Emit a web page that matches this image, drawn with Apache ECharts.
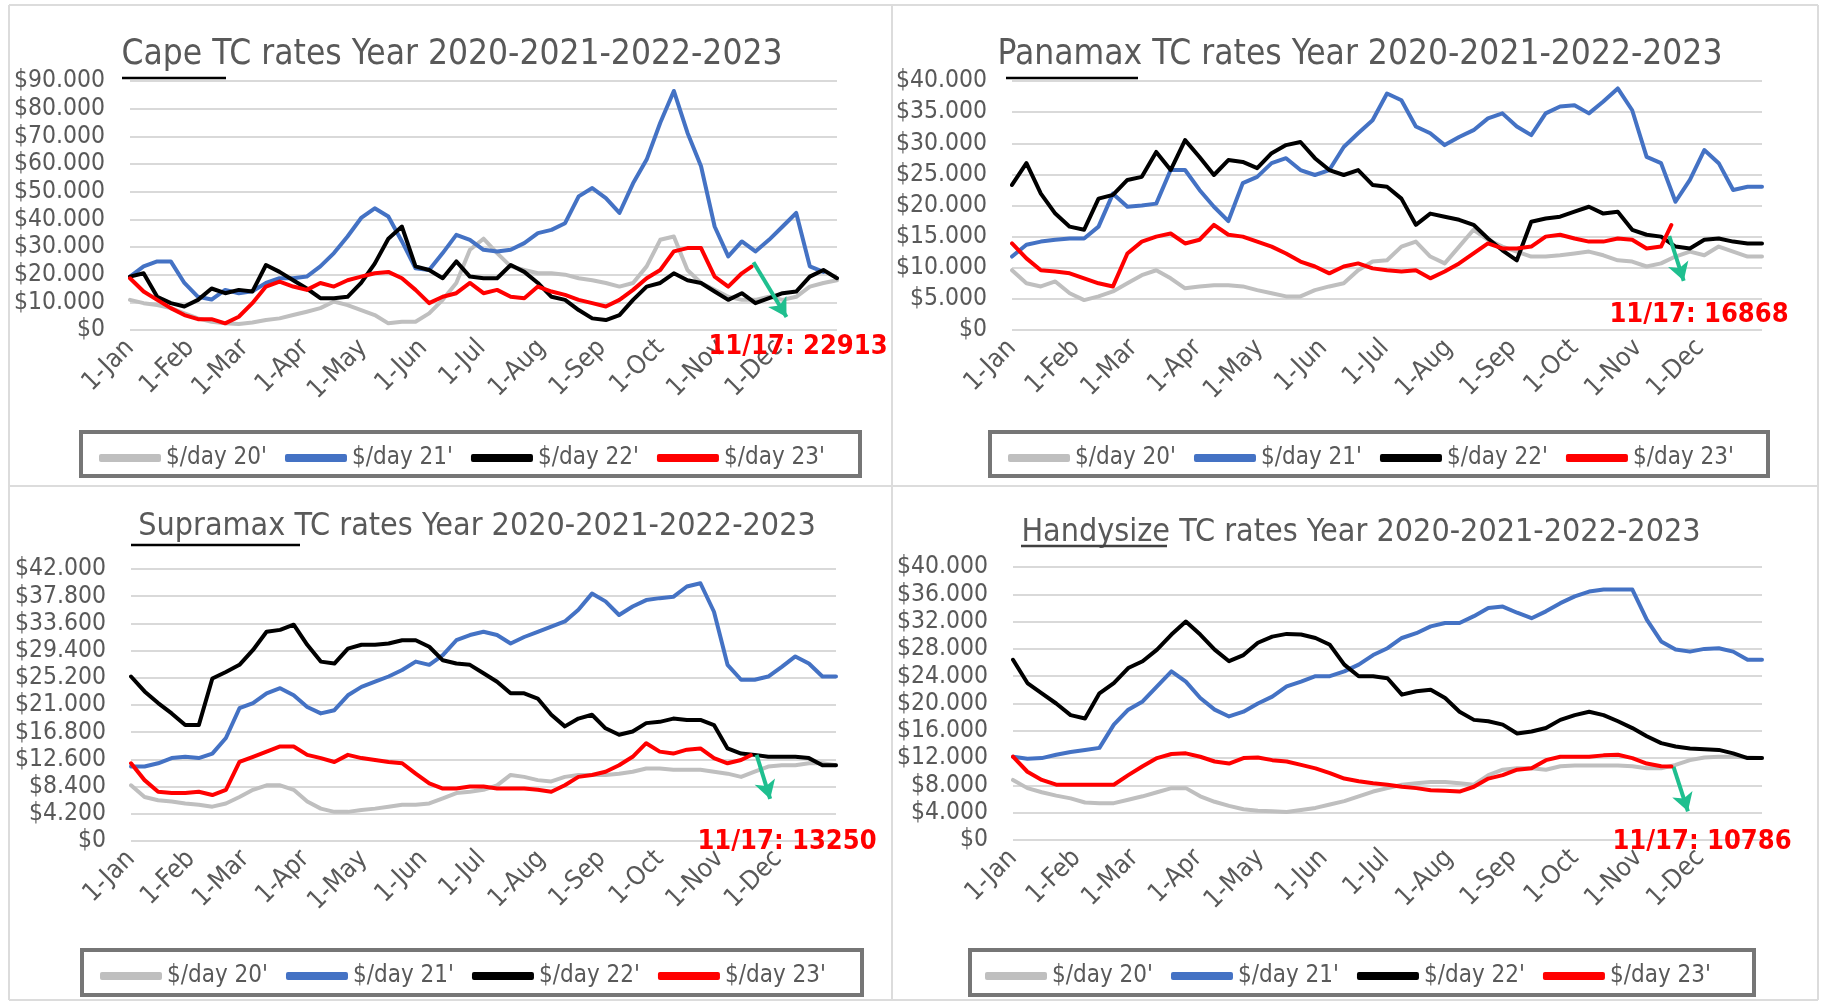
<!DOCTYPE html>
<html>
<head>
<meta charset="utf-8">
<script src="https://cdn.jsdelivr.net/npm/echarts@6/dist/echarts.min.js"></script>
<style>
html,body{margin:0;padding:0;background:#fff;}
#chart{width:1821px;height:1004px;}
</style>
</head>
<body>
<div id="chart"></div>
<script>
(()=>{
"use strict";

// x positions: day of year, weekly samples
const days = [0,7,14,21,28,35,42,49,56,63,70,77,84,91,98,105,112,119,126,133,140,147,154,161,168,175,182,189,196,203,210,217,224,231,238,245,252,259,266,273,280,287,294,301,308,315,322,329,336,343,350,357,364];
const lastDay23 = 320; // 17 Nov
const monthStarts = [0,31,59,90,120,151,181,212,243,273,304,334];
const monthLabels = ['1-Jan','1-Feb','1-Mar','1-Apr','1-May','1-Jun','1-Jul','1-Aug','1-Sep','1-Oct','1-Nov','1-Dec'];
const seriesNames = ["$/day 20'", "$/day 21'", "$/day 22'", "$/day 23'"];
const seriesColors = ['#bfbfbf', '#4472c4', '#000000', '#ff0000'];

// Cape
const cape20 = [10900,9700,9000,7900,6000,4200,3000,2400,2200,2700,3600,4200,5400,6600,7900,10300,9000,7200,5400,2400,3000,3000,6000,10900,17000,29000,33000,27800,23000,21700,20500,20500,20000,18700,18000,17000,15700,17000,23000,32600,33800,21700,17000,14500,12000,10900,10900,12000,10900,12000,15700,17000,18000];
const cape21 = [19300,23000,24800,24800,17000,12000,11000,14500,13300,14000,17000,18700,18700,19300,23000,27800,33800,40500,44000,41000,32000,22300,21700,27800,34400,32600,29000,28400,29000,31400,35000,36200,38600,48300,51300,47700,42300,53000,61600,74900,86400,71300,59200,37400,26600,32000,28400,32600,37400,42300,23000,21000];
const cape22 = [19300,20500,12000,9700,8500,10900,15000,13300,14500,13900,23500,21000,18000,15000,11500,11500,12000,17000,24000,33000,37400,23000,21700,18700,24800,19300,18700,18700,23500,21000,17000,12000,10900,7200,4200,3600,5400,10900,15700,17000,20500,18000,17000,13900,10900,13300,9700,11500,13300,13900,19300,21700,18700];
const cape23 = [18700,13900,10900,7900,5400,3900,3900,2400,4800,9700,15700,17500,15700,14500,17000,15700,18000,19300,20500,21000,18700,14500,9700,12000,13300,17000,13300,14500,12000,11500,15700,13900,12700,10900,9700,8500,10900,14500,18700,21700,28400,29600,29600,19300,15700,20500,22913];

// Panamax
const pmx20 = [9600,7500,7000,7800,5900,4800,5400,6200,7500,8800,9600,8300,6700,7000,7200,7200,7000,6400,5900,5400,5400,6400,7000,7500,9600,11000,11200,13400,14200,11800,10700,13400,16100,14500,13400,12600,11800,11800,12000,12300,12600,12000,11200,11000,10200,10700,11800,12600,12000,13400,12600,11800,11800];
const pmx21 = [11800,13700,14200,14500,14700,14700,16600,21900,19800,20000,20300,25700,25700,22500,19800,17500,23600,24600,26800,27600,25700,24900,25700,29400,31600,33700,38000,36900,32700,31600,29700,31000,32100,34000,34800,32700,31300,34800,35900,36100,34800,36700,38800,35300,27800,26800,20600,24100,28900,26800,22500,23000,23000];
const pmx22 = [23300,26800,21900,18700,16600,16100,21100,21700,24100,24600,28600,25700,30500,27800,24900,27300,27000,26000,28400,29700,30200,27600,25700,24900,25700,23300,23000,21100,16900,18700,18200,17700,16900,14700,12800,11200,17400,17900,18200,19000,19800,18700,19000,16100,15300,15000,13400,13100,14500,14700,14200,13900,13900];
const pmx23 = [13900,11500,9600,9400,9100,8300,7500,7000,12300,14200,15000,15500,13900,14500,16900,15300,15000,14200,13400,12300,11000,10200,9100,10200,10700,9900,9600,9400,9600,8300,9400,10700,12300,13900,13100,13100,13400,15000,15300,14700,14200,14200,14700,14500,13100,13400,16868];

// Supramax
const smx20 = [8600,6800,6300,6100,5800,5600,5300,5800,6800,7900,8600,8600,7900,6100,5000,4500,4500,4800,5000,5300,5600,5600,5800,6600,7400,7600,7900,8600,10200,9900,9400,9200,9900,10200,10200,10200,10400,10700,11200,11200,11000,11000,11000,10700,10400,9900,10700,11500,11700,11700,12000,12000,11700];
const smx21 = [11500,11500,12000,12800,13000,12800,13500,15900,20500,21300,22800,23600,22500,20700,19700,20200,22500,23800,24600,25400,26400,27700,27200,28700,31000,31800,32300,31800,30500,31500,32300,33100,33900,35700,38200,37000,34900,36200,37200,37500,37700,39300,39800,35400,27200,24900,24900,25400,26900,28500,27400,25400,25400];
const smx22 = [25400,23100,21300,19700,17900,17900,25100,26100,27200,29500,32300,32600,33400,30300,27700,27400,29700,30300,30300,30500,31000,31000,30000,27900,27400,27200,25900,24600,22800,22800,22000,19500,17700,18900,19500,17400,16400,16900,18200,18400,18900,18700,18700,17900,14300,13500,13300,13000,13000,13000,12800,11700,11700];
const smx23 = [12000,9400,7600,7400,7400,7600,7100,7900,12200,13000,13800,14600,14600,13300,12800,12200,13300,12800,12500,12200,12000,10400,8900,8100,8100,8400,8400,8100,8100,8100,7900,7600,8600,9900,10200,10700,11700,13000,15100,13800,13500,14100,14300,12800,12000,12500,13250];

// Handysize
const hdy20 = [8800,7600,7000,6500,6100,5500,5400,5400,5900,6400,7000,7600,7600,6400,5600,5000,4500,4300,4200,4100,4400,4700,5200,5700,6400,7100,7600,8100,8300,8500,8500,8300,8100,9500,10300,10500,10500,10300,10800,10900,10900,10900,10900,10800,10500,10500,11000,11700,12100,12200,12200,12100,12000];
const hdy21 = [12200,11900,12000,12500,12900,13200,13500,16900,19100,20300,22500,24700,23200,20800,19100,18100,18800,20000,21000,22500,23200,24000,24000,24700,25700,27100,28100,29600,30300,31300,31800,31800,32800,34000,34200,33300,32500,33500,34700,35700,36400,36700,36700,36700,32300,29100,27900,27600,28000,28100,27600,26400,26400];
const hdy22 = [26400,23000,21500,20000,18300,17800,21500,23000,25200,26200,27900,30100,32000,30100,27900,26200,27100,28900,29800,30200,30100,29600,28600,25700,24000,24000,23700,21300,21800,22000,20800,18800,17600,17400,16900,15600,15900,16400,17600,18300,18800,18300,17400,16400,15200,14200,13700,13400,13300,13200,12700,12000,12000];
const hdy23 = [12200,10000,8800,8100,8100,8100,8100,8100,9500,10800,12000,12600,12700,12200,11500,11200,12000,12100,11700,11500,11000,10500,9800,9000,8600,8300,8100,7800,7600,7300,7200,7100,7800,9000,9500,10300,10500,11700,12200,12200,12200,12400,12500,12000,11200,10800,10786];

const latest23 = [22913, 16868, 13250, 10786];

const FONT = "'DejaVu Sans Condensed', 'Liberation Sans Narrow', sans-serif";
const TXT = '#595959';
const ARROW = '#1fbf8f';

// layout of the four panels
const panels = [
    {title:'Cape TC rates Year 2020-2021-2022-2023', titleXY:[452,55], titleSize:35, under:[122,226,78,'#000'],
     grid:{left:130, top:81, width:707, height:249}, yMax:90000, yStep:10000,
     data:[cape20,cape21,cape22,cape23], arrow:[[321,24500],[338,4700]], note:[798,347],
     legendBox:[81,432,779,44], legendXY:[99,446]},
    {title:'Panamax TC rates Year 2020-2021-2022-2023', titleXY:[1360,55], titleSize:35, under:[1006,1138,78,'#000'],
     grid:{left:1012, top:81, width:750, height:249}, yMax:40000, yStep:5000,
     data:[pmx20,pmx21,pmx22,pmx23], arrow:[[319,15100],[326,7900]], note:[1699,315],
     legendBox:[990,432,778,44], legendXY:[1008,446]},
    {title:'Supramax TC rates Year 2020-2021-2022-2023', titleXY:[477,527], titleSize:32, under:[131,300,545,'#000'],
     grid:{left:131, top:569, width:705, height:272}, yMax:42000, yStep:4200,
     data:[smx20,smx21,smx22,smx23], arrow:[[323,13300],[330,6500]], note:[787,842],
     legendBox:[82,950,780,45], legendXY:[100,964]},
    {title:'Handysize TC rates Year 2020-2021-2022-2023', titleXY:[1361,533], titleSize:32, under:[1021,1167,546,'#404040'],
     grid:{left:1013, top:567, width:749, height:273}, yMax:40000, yStep:4000,
     data:[hdy20,hdy21,hdy22,hdy23], arrow:[[321,10700],[328,4200]], note:[1702,842],
     legendBox:[970,950,784,45], legendXY:[985,964]}
];

const dollar = v => '$' + String(v).replace(/\B(?=(\d{3})+(?!\d))/g, '.');

const grids = [], xAxes = [], yAxes = [], series = [], legends = [], graphics = [];

// panel frame
const frame = [[9,5,1818,5],[9,486,1818,486],[9,1000,1818,1000],[9,5,9,1000],[892,5,892,1000],[1818,5,1818,1000]];
frame.forEach(f => graphics.push({type:'line', shape:{x1:f[0],y1:f[1],x2:f[2],y2:f[3]}, style:{stroke:'#dcdcdc', lineWidth:2}, silent:true}));

panels.forEach((p, gi) => {
    grids.push(Object.assign({outerBoundsMode:'none', containLabel:false}, p.grid));
    xAxes.push({
        type:'value', gridIndex:gi, min:0, max:364,
        axisLine:{show:false}, axisTick:{show:false}, splitLine:{show:false},
        axisLabel:{customValues:monthStarts, formatter:v => monthLabels[monthStarts.indexOf(v)],
            rotate:45, margin:14, color:TXT, fontSize:26, fontFamily:FONT}
    });
    yAxes.push({
        type:'value', gridIndex:gi, min:0, max:p.yMax, interval:p.yStep,
        axisLine:{show:false}, axisTick:{show:false},
        axisLabel:{formatter:dollar, color:TXT, fontSize:24.5, fontFamily:FONT, margin:25},
        splitLine:{lineStyle:{color:'#d9d9d9', width:2}}
    });
    p.data.forEach((vals, si) => {
        const is23 = si === 3;
        const s = {
            type:'line', name:seriesNames[si], xAxisIndex:gi, yAxisIndex:gi,
            data: vals.map((v, i) => [(is23 && i === vals.length - 1) ? lastDay23 : days[i], v]),
            showSymbol:false, symbol:'none', smooth:false,
            lineStyle:{color:seriesColors[si], width:4, cap:'round', join:'round'},
            itemStyle:{color:seriesColors[si]}, z:2 + si
        };
        if (is23) {
            s.markLine = {
                silent:true, symbol:['none','arrow'], symbolSize:[16,18], animation:false,
                label:{show:false},
                lineStyle:{color:ARROW, width:4, type:'solid'},
                data:[[{coord:p.arrow[0]}, {coord:p.arrow[1]}]]
            };
        }
        series.push(s);
    });
    legends.push({
        data:seriesNames, left:p.legendXY[0], top:p.legendXY[1], padding:0,
        icon:'roundRect', itemWidth:62, itemHeight:8, itemGap:18,
        textStyle:{fontSize:24, color:TXT, fontFamily:FONT}
    });
    graphics.push({type:'rect', shape:{x:p.legendBox[0], y:p.legendBox[1], width:p.legendBox[2], height:p.legendBox[3]},
        style:{fill:'none', stroke:'#767676', lineWidth:4}, silent:true});
    graphics.push({type:'text', x:p.titleXY[0], y:p.titleXY[1],
        style:{text:p.title, fill:TXT, fontSize:p.titleSize, fontFamily:FONT, textAlign:'center', textVerticalAlign:'middle'}, silent:true});
    graphics.push({type:'line', shape:{x1:p.under[0], y1:p.under[2], x2:p.under[1], y2:p.under[2]},
        style:{stroke:p.under[3], lineWidth:2.5}, silent:true});
    graphics.push({type:'text', x:p.note[0], y:p.note[1],
        style:{text:'11/17: ' + latest23[gi], fill:'#ff0000', fontSize:27, fontWeight:'bold', fontFamily:FONT,
            textAlign:'center', textVerticalAlign:'middle'}, silent:true, z:10});
});

const chart = echarts.init(document.getElementById('chart'), null, {renderer:'canvas'});
chart.setOption({
    animation:false,
    backgroundColor:'#ffffff',
    grid:grids, xAxis:xAxes, yAxis:yAxes, legend:legends,
    series:series, graphic:graphics
});
})();
</script>
</body>
</html>
